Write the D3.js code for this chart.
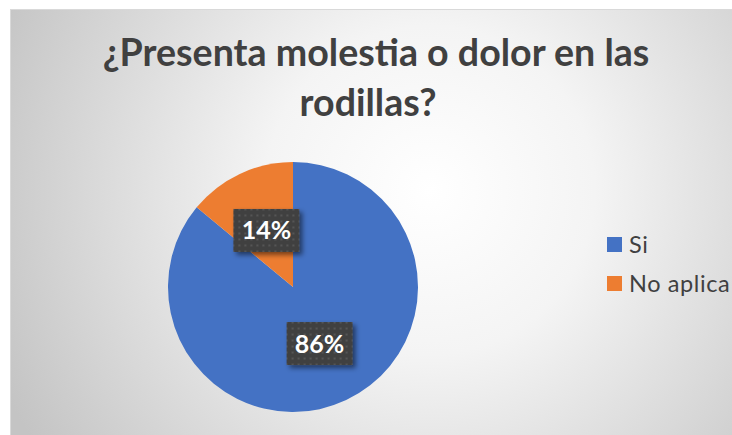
<!DOCTYPE html>
<html><head><meta charset="utf-8">
<script src="https://cdn.jsdelivr.net/npm/d3@7"></script>
<style>html,body{margin:0;padding:0;background:#fff;overflow:hidden}</style>
</head><body>
<svg id="c" width="732" height="435"></svg>
<script>
const titleLines = ["¿Presenta molestia o dolor en las", "rodillas?"];
const categories = ["Si", "No aplica"];
const values = [86, 14];
const labels = ["86%", "14%"];
const colors = ["#4472C4", "#ED7D31"];

const svg = d3.select("#c");
const defs = svg.append("defs");
const grad = defs.append("radialGradient").attr("id","bg")
  .attr("gradientUnits","userSpaceOnUse").attr("cx",430).attr("cy",190).attr("r",470);
grad.append("stop").attr("offset","0").attr("stop-color","#ffffff");
grad.append("stop").attr("offset","0.35").attr("stop-color","#f4f4f4");
grad.append("stop").attr("offset","1").attr("stop-color","#c4c4c4");

const pat = defs.append("pattern").attr("id","dots").attr("patternUnits","userSpaceOnUse")
  .attr("width",6).attr("height",6);
pat.append("rect").attr("width",6).attr("height",6).attr("fill","#404040");
pat.append("rect").attr("x",2).attr("y",2).attr("width",2).attr("height",2).attr("fill","#555555");

const f = defs.append("filter").attr("id","sh").attr("x","-30%").attr("y","-30%").attr("width","160%").attr("height","160%");
f.append("feDropShadow").attr("dx",3).attr("dy",3).attr("stdDeviation",2.5)
  .attr("flood-color","#000").attr("flood-opacity",0.5);

svg.append("rect").attr("x",10.5).attr("y",9.5).attr("width",760).attr("height",460)
  .attr("fill","url(#bg)").attr("stroke","#d9d9d9").attr("stroke-width",1);

// title
const font = "Lato, 'Open Sans', sans-serif";
const t1 = svg.append("text").attr("x",376).attr("y",66).attr("text-anchor","middle")
  .attr("font-family",font).attr("font-weight","bold").attr("font-size",32)
  .attr("fill","#404040").text(titleLines[0]);
const w = t1.node().getComputedTextLength();
const fs = 32 * 547 / w;
t1.attr("font-size", fs);
svg.append("text").attr("x",368).attr("y",116).attr("text-anchor","middle")
  .attr("font-family",font).attr("font-weight","bold").attr("font-size",fs)
  .attr("fill","#404040").text(titleLines[1]);

// pie
const cx = 293, cy = 287, r = 125;
const pie = d3.pie().sort(null).value(d => d)(values);
const arc = d3.arc().innerRadius(0).outerRadius(r);
const g = svg.append("g").attr("transform",`translate(${cx},${cy})`);
g.selectAll("path").data(pie).join("path").attr("d",arc).attr("fill",(d,i)=>colors[i]);

// labels
const bw = 66, bh = 43;
pie.forEach((d,i) => {
  const [x,y] = arc.centroid(d);
  const lg = g.append("g").attr("transform",`translate(${x},${y})`);
  lg.append("rect").attr("x",-bw/2).attr("y",-bh/2).attr("width",bw).attr("height",bh)
    .attr("fill","url(#dots)").attr("filter","url(#sh)");
  lg.append("text").attr("text-anchor","middle").attr("y",9)
    .attr("font-family",font).attr("font-weight","bold").attr("font-size",25)
    .attr("fill","#fff").text(labels[i]);
});

// legend
const lgY = [245, 284];
categories.forEach((c,i) => {
  svg.append("rect").attr("x",607).attr("y",lgY[i]-8).attr("width",15).attr("height",15).attr("fill",colors[i]);
  svg.append("text").attr("x",629).attr("y",lgY[i]+8).attr("font-family",font)
    .attr("font-size",23.5).attr("letter-spacing",0.6).attr("fill","#404040").text(c);
});
</script>
</body></html>
